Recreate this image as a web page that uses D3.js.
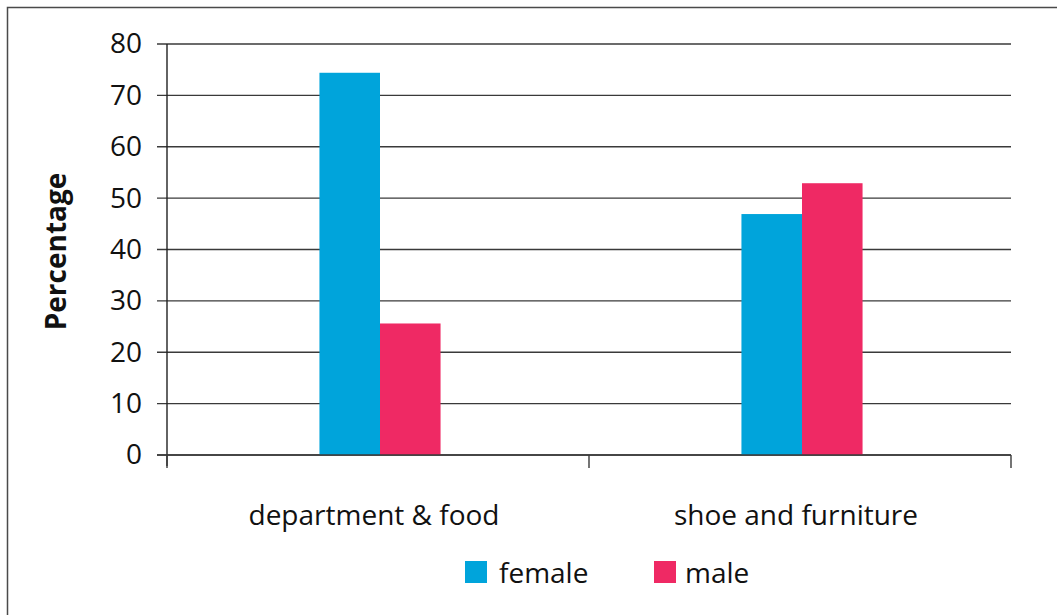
<!DOCTYPE html>
<html>
  <head>
    <title>Percentage by store type</title>
    <script src="https://d3js.org/d3.v7.min.js"></script>
    <style>
      body { margin: 0; background: #fff; }
      text { font-family: "Open Sans", sans-serif; fill: #111; }
    </style>
  </head>
  <body>
    <div id="chart"></div>
    <script>
      // data
      const categories = ['department & food', 'shoe and furniture'];
      const seriesNames = ['female', 'male'];
      const female = [74.4, 46.9];
      const male = [25.6, 52.9];
      const yTicks = [0, 10, 20, 30, 40, 50, 60, 70, 80];
      const colors = ['#00a4db', '#ef2964'];

      const W = 1057, H = 615;
      const margin = { top: 44, right: 46, bottom: 160, left: 167 };
      const width = W - margin.left - margin.right;
      const height = H - margin.top - margin.bottom;

      const svg = d3.select('#chart')
        .append('svg')
        .attr('width', W)
        .attr('height', H);

      // outer frame
      svg.append('rect')
        .attr('x', 7.5).attr('y', 7.5)
        .attr('width', W).attr('height', H)
        .attr('fill', 'none')
        .attr('stroke', '#4a4a4a')
        .attr('stroke-width', 1.5);

      const g = svg.append('g')
        .attr('transform', 'translate(' + margin.left + ',' + margin.top + ')');

      const x0 = d3.scaleBand().domain(categories).range([0, width]).padding(0);
      const groupW = x0.bandwidth() * 0.287;
      const x1 = d3.scaleBand().domain(seriesNames).range([0, groupW]).padding(0);
      const y = d3.scaleLinear().domain([0, 80]).range([height, 0]);

      // gridlines + left ticks
      g.append('g')
        .selectAll('line')
        .data(yTicks)
        .enter()
        .append('line')
        .attr('x1', -10)
        .attr('x2', width)
        .attr('y1', d => y(d))
        .attr('y2', d => y(d))
        .attr('stroke', '#3a3a3a')
        .attr('stroke-width', 1.4);

      // y axis labels
      g.append('g')
        .call(d3.axisLeft(y).tickValues(yTicks).tickSize(0).tickPadding(25))
        .call(a => a.select('.domain').remove())
        .selectAll('text')
        .style('font-size', '28px')
        .attr('fill', '#111');

      // bars
      const rows = categories.map((c, i) => ({ cat: c, values: [female[i], male[i]] }));
      g.selectAll('.grp')
        .data(rows)
        .enter()
        .append('g')
        .attr('class', 'grp')
        .attr('transform', d => 'translate(' + (x0(d.cat) + (x0.bandwidth() - groupW) / 2 + 2) + ',0)')
        .selectAll('rect')
        .data(d => d.values.map((v, j) => ({ name: seriesNames[j], v: v, j: j })))
        .enter()
        .append('rect')
        .attr('x', d => x1(d.name))
        .attr('y', d => y(d.v))
        .attr('width', x1.bandwidth())
        .attr('height', d => height - y(d.v))
        .attr('fill', d => colors[d.j]);

      // vertical axis line
      g.append('line')
        .attr('x1', 0).attr('x2', 0)
        .attr('y1', 0).attr('y2', height + 11)
        .attr('stroke', '#222').attr('stroke-width', 1.4);

      // bottom axis
      g.append('line')
        .attr('x1', -10).attr('x2', width)
        .attr('y1', height).attr('y2', height)
        .attr('stroke', '#3a3a3a').attr('stroke-width', 1.4);
      const edges = categories.map(c => x0(c)).concat([width]);
      g.selectAll('.xtick')
        .data(edges)
        .enter()
        .append('line')
        .attr('class', 'xtick')
        .attr('x1', d => d).attr('x2', d => d)
        .attr('y1', height).attr('y2', height + 13)
        .attr('stroke', '#3a3a3a').attr('stroke-width', 1.4);

      g.selectAll('.xlab')
        .data(categories)
        .enter()
        .append('text')
        .attr('class', 'xlab')
        .attr('x', d => x0(d) + x0.bandwidth() / 2 - 4)
        .attr('y', height + 70)
        .attr('text-anchor', 'middle')
        .style('font-size', '28px')
        .text(d => d);

      // y title
      svg.append('text')
        .attr('transform', 'translate(66,' + (margin.top + height / 2 + 2) + ') rotate(-90)')
        .attr('text-anchor', 'middle')
        .style('font-size', '28px')
        .style('font-weight', 'bold')
        .text('Percentage');

      // legend
      const legX = [465, 654];
      const leg = svg.selectAll('.leg')
        .data(seriesNames)
        .enter()
        .append('g')
        .attr('class', 'leg')
        .attr('transform', (d, i) => 'translate(' + legX[i] + ',561)');
      leg.append('rect')
        .attr('width', 22).attr('height', 22)
        .attr('fill', (d, i) => colors[i]);
      leg.append('text')
        .attr('x', (d, i) => i === 0 ? 34 : 31)
        .attr('y', 22)
        .style('font-size', '28px')
        .text(d => d);
    </script>
  </body>
</html>
